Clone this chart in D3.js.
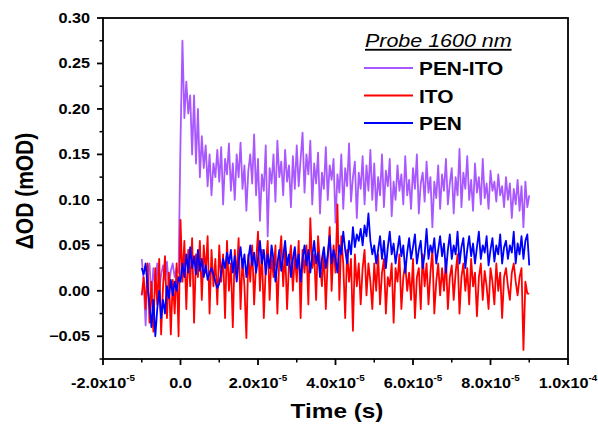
<!DOCTYPE html>
<html>
  <head>
    <meta charset="UTF-8" />
    <style>
      body {
        margin: 0;
        background: #fff;
      }
      svg text {
        font-family: "Liberation Sans", Arial, sans-serif;
      }
      .tick-label {
        font-size: 14px;
        font-weight: bold;
      }
      .axis-title {
        font-weight: bold;
      }
    </style>
  </head>
  <body>
    <svg></svg>
    <script src="https://d3js.org/d3.v7.min.js"></script>
    <script>
      // sampling grid of the transient (s)
      const timeStart = -1.0e-5;
      const timeStep = 0.5e-6;

      const seriesNames = ["PEN-ITO", "ITO", "PEN"];

      // ΔOD (mOD)
      const penIto = [
        0.035, 0.010, -0.038, 0.020, 0.030, -0.010, 0.025, 0.005, 0.030, 0.000,
        0.018, 0.028, 0.012, 0.032, 0.005, 0.022, 0.030, 0.015, 0.025, 0.020,
        0.165, 0.275, 0.190, 0.230, 0.195, 0.215, 0.150, 0.215, 0.140, 0.200,
        0.125, 0.170, 0.135, 0.160, 0.115, 0.150, 0.105, 0.140, 0.125, 0.155,
        0.120, 0.158, 0.095, 0.145, 0.128, 0.162, 0.110, 0.140, 0.100, 0.150,
        0.125, 0.163, 0.112, 0.138, 0.088, 0.132, 0.150, 0.118, 0.172, 0.105,
        0.145, 0.077, 0.128, 0.110, 0.160, 0.060, 0.135, 0.118, 0.150, 0.098,
        0.165, 0.125, 0.142, 0.105, 0.155, 0.120, 0.138, 0.092, 0.148, 0.112,
        0.160, 0.115, 0.145, 0.174, 0.108, 0.150, 0.128, 0.165, 0.095, 0.140,
        0.118, 0.152, 0.085, 0.130, 0.112, 0.158, 0.100, 0.138, 0.122, 0.145,
        0.075, 0.128, 0.108, 0.150, 0.090, 0.135, 0.115, 0.162, 0.098, 0.125,
        0.142, 0.080, 0.130, 0.112, 0.148, 0.095, 0.138, 0.110, 0.155, 0.100,
        0.140, 0.088, 0.125, 0.105, 0.150, 0.092, 0.132, 0.115, 0.145, 0.082,
        0.120, 0.100, 0.138, 0.110, 0.128, 0.095, 0.148, 0.105, 0.122, 0.090,
        0.135, 0.112, 0.150, 0.085, 0.118, 0.130, 0.098, 0.142, 0.108, 0.125,
        0.070, 0.120, 0.102, 0.138, 0.090, 0.128, 0.110, 0.145, 0.095, 0.118,
        0.135, 0.085, 0.125, 0.105, 0.156, 0.092, 0.130, 0.112, 0.148, 0.100,
        0.122, 0.088, 0.140, 0.108, 0.125, 0.095, 0.145, 0.102, 0.118, 0.090,
        0.132, 0.110, 0.120, 0.098, 0.128, 0.105, 0.115, 0.092, 0.125, 0.100,
        0.118, 0.080, 0.112, 0.095, 0.122, 0.088, 0.115, 0.070, 0.120, 0.092,
        0.105
      ];

      const ito = [
        -0.005, 0.015, -0.020, 0.030, -0.035, 0.010, -0.045, 0.025, -0.015, 0.035,
        -0.048, 0.005, 0.038, -0.030, 0.020, -0.048, 0.012, -0.025, 0.030, -0.050,
        0.078, 0.010, 0.055, -0.020, 0.045, 0.005, 0.058, -0.035, 0.040, 0.015,
        0.055, -0.010, 0.050, 0.020, 0.060, -0.025, 0.045, 0.005, 0.035, -0.015,
        0.050, 0.010, 0.040, -0.030, 0.055, 0.000, 0.030, -0.040, 0.045, 0.015,
        0.058, -0.020, 0.035, 0.005, -0.052, 0.040, 0.010, 0.050, -0.015, 0.030,
        0.065, 0.000, 0.045, -0.030, 0.025, 0.055, -0.010, 0.040, 0.015, 0.050,
        -0.025, 0.035, 0.060, 0.005, 0.045, -0.020, 0.030, 0.050, 0.000, 0.040,
        0.010, 0.055, -0.030, 0.045, 0.020, 0.050, -0.015, 0.080, 0.025, 0.040,
        -0.010, 0.060, 0.030, 0.005, 0.045, -0.020, 0.035, 0.070, 0.000, 0.050,
        0.020, 0.095, -0.010, 0.060, 0.030, -0.030, 0.045, 0.010, 0.035, -0.044,
        0.040, 0.005, 0.030, -0.015, 0.025, 0.045, -0.005, 0.030, 0.010, -0.020,
        0.030, 0.000, 0.040, -0.015, 0.020, 0.035, -0.025, 0.015, 0.005, 0.030,
        -0.035, 0.025, 0.010, 0.040, -0.020, 0.015, 0.030, 0.000, 0.020, -0.010,
        0.035, -0.030, 0.015, 0.025, -0.020, 0.040, 0.005, 0.030, -0.015, 0.020,
        0.045, -0.025, 0.010, 0.030, -0.005, 0.025, 0.000, 0.035, -0.020, 0.015,
        0.028, -0.010, 0.020, 0.040, -0.025, 0.015, 0.030, 0.000, 0.025, -0.015,
        0.035, 0.005, 0.020, -0.028, 0.015, 0.030, -0.010, 0.022, 0.005, -0.020,
        0.025, 0.010, -0.015, 0.030, 0.000, 0.020, -0.030, 0.015, 0.025, 0.005,
        -0.010, 0.020, 0.030, 0.010, -0.005, 0.015, 0.025, -0.065, 0.010, -0.003,
        -0.003
      ];

      const pen = [
        0.025, 0.018, 0.030, 0.005, -0.015, -0.040, -0.010, -0.050, -0.020, 0.000,
        -0.030, -0.010, -0.025, 0.005, -0.008, 0.012, -0.005, 0.010, 0.000, 0.015,
        0.010, 0.030, 0.015, 0.040, 0.020, 0.048, 0.025, 0.038, 0.018, 0.045,
        0.022, 0.035, 0.015, 0.028, 0.012, 0.020, 0.025, 0.018, 0.010, 0.003,
        0.008, 0.020, 0.035, 0.025, 0.042, 0.030, 0.045, 0.020, 0.038, 0.010,
        0.032, 0.048, 0.025, 0.040, 0.015, 0.035, 0.050, 0.028, 0.042, 0.020,
        0.035, 0.055, 0.030, 0.045, 0.018, 0.040, 0.025, 0.050, 0.035, 0.010,
        0.030, 0.045, 0.022, 0.038, 0.055, 0.028, 0.040, 0.015, 0.035, 0.048,
        0.025, 0.040, 0.010, 0.035, 0.050, 0.028, 0.045, 0.020, 0.038, 0.055,
        0.030, 0.042, 0.015, 0.035, 0.048, 0.025, 0.040, 0.060, 0.030, 0.045,
        0.035, 0.020, 0.050, 0.040, 0.065, 0.045, 0.030, 0.055, 0.040, 0.070,
        0.048, 0.062, 0.055, 0.068, 0.050, 0.072, 0.060, 0.085, 0.055, 0.040,
        0.050, 0.030, 0.045, 0.060, 0.035, 0.055, 0.025, 0.048, 0.065, 0.040,
        0.052, 0.030, 0.045, 0.060, 0.038, 0.050, 0.020, 0.042, 0.058, 0.035,
        0.048, 0.062, 0.030, 0.045, 0.055, 0.025, 0.040, 0.068, 0.035, 0.050,
        0.042, 0.058, 0.030, 0.045, 0.060, 0.038, 0.052, 0.020, 0.045, 0.062,
        0.035, 0.050, 0.040, 0.065, 0.030, 0.048, 0.058, 0.025, 0.045, 0.060,
        0.038, 0.052, 0.030, 0.048, 0.065, 0.035, 0.050, 0.042, 0.060, 0.028,
        0.045, 0.058, 0.032, 0.050, 0.040, 0.062, 0.030, 0.048, 0.055, 0.035,
        0.050, 0.042, 0.065, 0.030, 0.052, 0.040, 0.060, 0.035, 0.055, 0.062,
        0.028
      ];

      const xTicks = [-2e-5, 0, 2e-5, 4e-5, 6e-5, 8e-5, 1e-4];
      const xTickMant = ["-2.0", "0.0", "2.0", "4.0", "6.0", "8.0", "1.0"];
      const xTickExp = ["-5", "", "-5", "-5", "-5", "-5", "-4"];
      const yTicks = [-0.05, 0.0, 0.05, 0.1, 0.15, 0.2, 0.25, 0.3];

      let width = 598,
        height = 424;
      let margin = { left: 103, right: 30, top: 18, bottom: 65 };
      // the original figure is a bit wider than tall, text looks stretched
      let stretch = 1.16;

      let svg = d3
        .select("svg")
        .attr("width", width)
        .attr("height", height);

      let x = d3
        .scaleLinear()
        .domain([-2e-5, 1e-4])
        .range([margin.left, width - margin.right]);

      let y = d3
        .scaleLinear()
        .domain([-0.075, 0.3])
        .range([height - margin.bottom, margin.top]);

      let colors = d3
        .scaleOrdinal()
        .domain(seriesNames)
        .range(["#a958ff", "#ff0000", "#0000ff"]);

      // text placed at (px,py), stretched horizontally around its anchor
      function stretchedText(parent, px, py, anchor) {
        return parent
          .append("g")
          .attr("transform", "translate(" + px + "," + py + ") scale(" + stretch + ",1)")
          .append("text")
          .attr("text-anchor", anchor);
      }

      // build point lists from the arrays
      let series = [
        { name: "PEN-ITO", values: penIto },
        { name: "ITO", values: ito },
        { name: "PEN", values: pen },
      ];
      series.forEach((s) => {
        s.points = s.values.map((v, i) => ({ t: timeStart + i * timeStep, v: v }));
      });

      let line = d3
        .line()
        .x((d) => x(d.t))
        .y((d) => y(d.v));

      svg
        .append("g")
        .selectAll("path")
        .data(series)
        .enter()
        .append("path")
        .attr("d", (d) => line(d.points))
        .attr("fill", "none")
        .attr("stroke", (d) => colors(d.name))
        .attr("stroke-width", 1.8)
        .attr("stroke-linejoin", "round");

      // frame
      svg
        .append("rect")
        .attr("x", x.range()[0])
        .attr("y", y.range()[1])
        .attr("width", x.range()[1] - x.range()[0])
        .attr("height", y.range()[0] - y.range()[1])
        .attr("fill", "none")
        .attr("stroke", "#000")
        .attr("stroke-width", 1.8);

      // bottom axis
      let xMinor = d3.range(-1e-5, 1e-4, 2e-5);
      let gx = svg
        .append("g")
        .attr("transform", "translate(0," + y.range()[0] + ")");
      gx.selectAll(".maj")
        .data(xTicks)
        .enter()
        .append("line")
        .attr("x1", (d) => x(d))
        .attr("x2", (d) => x(d))
        .attr("y1", 0)
        .attr("y2", 6)
        .attr("stroke", "#000")
        .attr("stroke-width", 1.8);
      gx.selectAll(".min")
        .data(xMinor)
        .enter()
        .append("line")
        .attr("x1", (d) => x(d))
        .attr("x2", (d) => x(d))
        .attr("y1", 0)
        .attr("y2", 3.5)
        .attr("stroke", "#000")
        .attr("stroke-width", 1.5);
      xTicks.forEach((d, i) => {
        let t = stretchedText(gx, x(d), 29, "middle").attr("class", "tick-label");
        t.append("tspan").text(xTickExp[i] ? xTickMant[i] + "x10" : xTickMant[i]);
        if (xTickExp[i]) {
          t.append("tspan")
            .attr("dy", -7)
            .style("font-size", "8.5px")
            .text(xTickExp[i]);
        }
      });

      // left axis
      let yMinor = d3.range(-0.075, 0.3, 0.05);
      let gy = svg
        .append("g")
        .attr("transform", "translate(" + x.range()[0] + ",0)");
      gy.selectAll(".maj")
        .data(yTicks)
        .enter()
        .append("line")
        .attr("x1", -6)
        .attr("x2", 0)
        .attr("y1", (d) => y(d))
        .attr("y2", (d) => y(d))
        .attr("stroke", "#000")
        .attr("stroke-width", 1.8);
      gy.selectAll(".min")
        .data(yMinor)
        .enter()
        .append("line")
        .attr("x1", -3.5)
        .attr("x2", 0)
        .attr("y1", (d) => y(d))
        .attr("y2", (d) => y(d))
        .attr("stroke", "#000")
        .attr("stroke-width", 1.5);
      yTicks.forEach((d) => {
        stretchedText(gy, -13, y(d) + 5, "end")
          .attr("class", "tick-label")
          .text(d3.format(".2f")(d));
      });

      // axis titles
      stretchedText(svg, 337, 418, "middle")
        .attr("class", "axis-title")
        .style("font-size", "21px")
        .text("Time (s)");

      svg
        .append("g")
        .attr("transform", "translate(33,191) rotate(-90) scale(1," + stretch + ")")
        .append("text")
        .attr("class", "axis-title")
        .attr("text-anchor", "middle")
        .style("font-size", "21px")
        .text("ΔOD (mOD)");

      // legend
      let legend = svg.append("g").attr("transform", "translate(364,0)");
      stretchedText(legend, 1, 47, "start")
        .style("font-size", "18.5px")
        .style("font-style", "italic")
        .style("text-decoration", "underline")
        .text("Probe 1600 nm");
      let items = legend
        .selectAll(".item")
        .data(seriesNames)
        .enter()
        .append("g")
        .attr("transform", (d, i) => "translate(0," + (68 + i * 27.5) + ")");
      items
        .append("line")
        .attr("x1", 0)
        .attr("x2", 49)
        .attr("stroke", (d) => colors(d))
        .attr("stroke-width", 1.8);
      items.each(function (d) {
        stretchedText(d3.select(this), 55, 7, "start")
          .style("font-size", "18px")
          .style("font-weight", "bold")
          .text(d);
      });
    </script>
  </body>
</html>
